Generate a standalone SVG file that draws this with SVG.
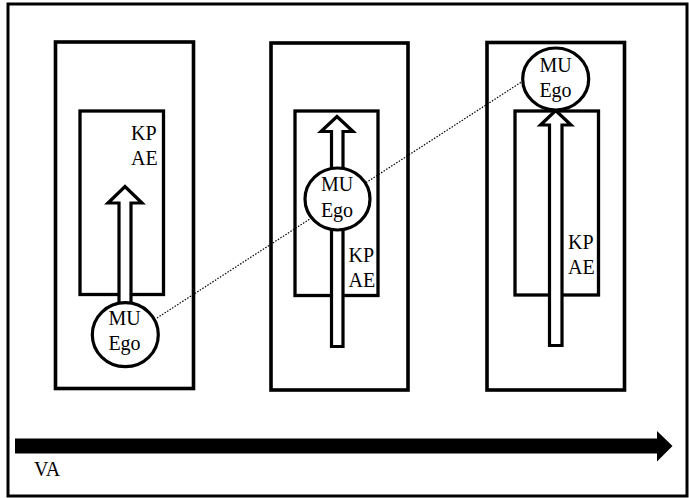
<svg xmlns="http://www.w3.org/2000/svg" width="689" height="498" viewBox="0 0 689 498">
  <style>
    .box { fill: #fff; stroke: #000; stroke-width: 3.6; }
    .inner { fill: #fff; stroke: #000; stroke-width: 3.3; }
    .blk { fill: #fff; stroke: #000; stroke-width: 3.2; stroke-linejoin: miter; }
    .ego { fill: #fff; stroke: #000; stroke-width: 3.2; }
    text { font-family: 'Liberation Serif', 'Times New Roman', Times, serif; font-size: 20px; fill: #000; }
    .c { text-anchor: middle; }
    .dot { fill: none; stroke: #000; stroke-width: 1.2; stroke-dasharray: 1.5 1.5; }
  </style>
  <rect x="0" y="0" width="689" height="498" fill="#fff"/>
  <g id="frame">
    <rect x="8" y="4" width="679" height="492" fill="none" stroke="#000" stroke-width="3"/>
  </g>

  <g id="panel1" font-family="Liberation Serif, serif">
    <rect class="box" x="55.5" y="42" width="138" height="346.5"/>
    <rect class="inner" x="80" y="111" width="83.5" height="183.5"/>
    <text x="131" y="140">KP</text>
    <text x="131" y="165">AE</text>
  </g>
  <g id="panel2" font-family="Liberation Serif, serif">
    <rect class="box" x="271" y="43" width="137" height="347"/>
    <rect class="inner" x="295" y="111" width="83" height="184.5"/>
    <text x="348.5" y="262">KP</text>
    <text x="348.5" y="287">AE</text>
  </g>
  <g id="panel3" font-family="Liberation Serif, serif">
    <rect class="box" x="487" y="42.5" width="137.5" height="347.5"/>
    <rect class="inner" x="515" y="111" width="83.5" height="184"/>
    <text x="568" y="249">KP</text>
    <text x="568" y="274">AE</text>
  </g>

  <g id="connectors">
    <line class="dot" x1="157" y1="318" x2="523" y2="81"/>
  </g>

  <g id="arrow1">
    <polygon class="blk" points="119,312 119,203 108,203 125,186.5 142,203 131,203 131,312"/>
  </g>
  <g id="arrow2">
    <polygon class="blk" points="331.5,346.5 331.5,131.5 321,131.5 337,116.5 353,131.5 343,131.5 343,346.5"/>
  </g>
  <g id="arrow3">
    <polygon class="blk" points="549.5,345.5 549.5,125 540.5,125 555.7,110.5 571,125 562,125 562,345.5"/>
  </g>

  <g id="ego1" font-family="Liberation Serif, serif">
    <ellipse class="ego" cx="125.3" cy="334.7" rx="33" ry="32"/>
    <text class="c" x="124.5" y="325">MU</text>
    <text class="c" x="124.5" y="350">Ego</text>
  </g>
  <g id="ego2" font-family="Liberation Serif, serif">
    <ellipse class="ego" cx="337.5" cy="199" rx="32.5" ry="31"/>
    <text class="c" x="337" y="191">MU</text>
    <text class="c" x="337" y="216.5">Ego</text>
  </g>
  <g id="ego3" font-family="Liberation Serif, serif">
    <ellipse class="ego" cx="555.7" cy="79" rx="33" ry="31"/>
    <text class="c" x="555.5" y="72">MU</text>
    <text class="c" x="555.5" y="97">Ego</text>
  </g>

  <g id="timeline" font-family="Liberation Serif, serif">
    <polygon points="15,438.5 657,438.5 657,431 672.5,446 657,461.5 657,453.5 15,453.5" fill="#000"/>
    <text x="34" y="476">VA</text>
  </g>
</svg>
